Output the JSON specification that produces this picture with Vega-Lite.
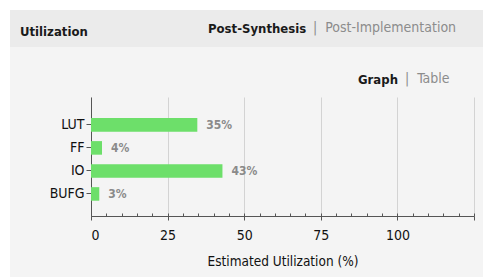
{
  "$schema": "https://vega.github.io/schema/vega-lite/v6.json",
  "background": "#f4f4f4",
  "padding": 0,
  "config": {"font": "DejaVu Sans Condensed, Liberation Sans, sans-serif", "view": {"stroke": null}, "concat": {"spacing": 0}},
  "spacing": 0,
  "vconcat": [
    {"width": 490, "height": 10, "data": {"values": []}, "mark": "point", "view": {"fill": "white", "stroke": null}},
    {
      "spacing": 0,
      "hconcat": [
        {"width": 10, "height": 267, "data": {"values": []}, "mark": "point", "view": {"fill": "white", "stroke": null}},
        {
          "spacing": 0,
          "vconcat": [
            {
              "bounds": "flush",
              "spacing": 0,
              "hconcat": [
                {"width": 198, "height": 37, "data": {"values": []}, "mark": "point", "view": {"fill": "#ebebeb", "stroke": null},
                 "title": {"text": "Utilization", "anchor": "start", "frame": "group", "dx": 10, "offset": -38.5, "limit": 300, "fontSize": 13, "fontWeight": "bold", "color": "#1a1a1a", "baseline": "alphabetic"}},
                {"width": 102, "height": 37, "data": {"values": []}, "mark": "point", "view": {"fill": "#ebebeb", "stroke": null},
                 "title": {"text": "Post-Synthesis", "anchor": "start", "frame": "group", "dx": 0, "offset": -36, "limit": 300, "fontSize": 13, "fontWeight": "bold", "color": "#1a1a1a", "baseline": "alphabetic"}},
                {"width": 173, "height": 37, "data": {"values": []}, "mark": "point", "view": {"fill": "#ebebeb", "stroke": null},
                 "title": {"text": "|\u00a0\u00a0Post-Implementation", "anchor": "start", "frame": "group", "dx": 3, "offset": -36, "limit": 300, "fontSize": 14, "fontWeight": "normal", "color": "#8c8c8c", "baseline": "alphabetic"}}
              ]
            },
            {
              "bounds": "flush",
              "spacing": 0,
              "hconcat": [
                {"width": 346, "height": 50, "data": {"values": []}, "mark": "point"},
                {"width": 49, "height": 50, "data": {"values": []}, "mark": "point",
                 "title": {"text": "Graph", "anchor": "start", "frame": "group", "dx": 2, "offset": -49.5, "limit": 300, "fontSize": 13, "fontWeight": "bold", "color": "#1a1a1a", "baseline": "alphabetic"}},
                {"width": 78, "height": 50, "data": {"values": []}, "mark": "point",
                 "title": {"text": "|\u00a0\u00a0Table", "anchor": "start", "frame": "group", "dx": 0, "offset": -49.5, "limit": 300, "fontSize": 14, "fontWeight": "normal", "color": "#8c8c8c", "baseline": "alphabetic"}}
              ]
            },
            {
              "bounds": "flush",
              "spacing": 0,
              "hconcat": [
                {"width": 81, "height": 119, "data": {"values": []}, "mark": "point"},
                {
                  "width": 383,
                  "height": 119,
                  "data": {"values": [
                    {"resource": "LUT", "util": 34.7, "label": "35%"},
                    {"resource": "FF", "util": 3.6, "label": "4%"},
                    {"resource": "IO", "util": 42.9, "label": "43%"},
                    {"resource": "BUFG", "util": 2.7, "label": "3%"}
                  ]},
                  "encoding": {
                    "y": {
                      "field": "resource", "type": "nominal", "sort": null,
                      "scale": {"paddingInner": 0.41, "paddingOuter": 0.79, "align": 0.58},
                      "axis": {"title": null, "domainColor": "#555555", "tickColor": "#555555", "tickSize": 5, "labelPadding": 2, "labelFontSize": 14, "labelColor": "#111111", "grid": false}
                    }
                  },
                  "layer": [
                    {
                      "mark": {"type": "bar", "color": "#6ddf6a"},
                      "encoding": {
                        "x": {
                          "field": "util", "type": "quantitative",
                          "scale": {"domain": [0, 125], "nice": false},
                          "axis": {
                            "orient": "bottom",
                            "values": [0, 25, 50, 75, 100, 125],
                            "labelExpr": "datum.value == 125 ? '' : datum.label",
                            "grid": true, "gridColor": "#d3d3d3", "gridWidth": 1,
                            "domainColor": "#555555", "tickColor": "#555555", "tickSize": 4,
                            "labelFontSize": 14, "labelColor": "#111111", "labelPadding": 8,
                            "title": "Estimated Utilization (%)", "titleFontSize": 13.5, "titleFontWeight": "normal", "titleColor": "#111111", "titlePadding": 12
                          }
                        }
                      }
                    },
                    {
                      "mark": {"type": "text", "align": "left", "dx": 9, "color": "#8a8a8a", "fontWeight": "bold", "fontSize": 12},
                      "encoding": {
                        "x": {
                          "field": "util", "type": "quantitative",
                          "axis": {
                            "orient": "bottom",
                            "values": [0, 5, 10, 15, 20, 25, 30, 35, 40, 45, 50, 55, 60, 65, 70, 75, 80, 85, 90, 95, 100, 105, 110, 115, 120, 125],
                            "labels": false, "domain": false, "grid": false, "title": null,
                            "tickColor": "#555555", "tickSize": -3
                          }
                        },
                        "text": {"field": "label"}
                      }
                    }
                  ],
                  "resolve": {"axis": {"x": "independent"}}
                }
              ]
            }
          ]
        },
        {"width": 7, "height": 267, "data": {"values": []}, "mark": "point", "view": {"fill": "white", "stroke": null}}
      ]
    }
  ]
}
